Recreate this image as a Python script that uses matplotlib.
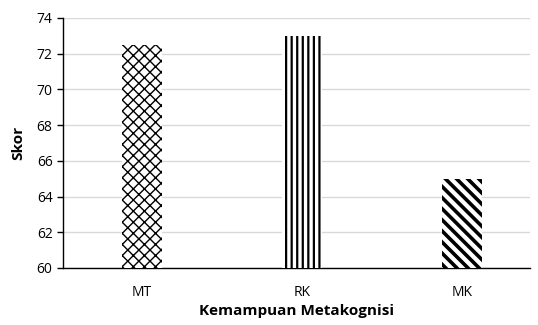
import matplotlib.pyplot as plt

categories = ["MT", "RK", "MK"]
scores = [72.5, 73.0, 65.0]
hatches = ["xxx", "|||", "\\\\\\"]
y_ticks = [60, 62, 64, 66, 68, 70, 72, 74]

plt.rcParams.update({
    "font.family": ["Open Sans", "DejaVu Sans"],
    "font.size": 10,
})

fig = plt.figure(figsize=(5.38, 3.25), dpi=100)
ax = fig.add_axes([63 / 538, 57 / 325, (530 - 63) / 538, 250 / 325])

x = list(range(len(categories)))
for xi, val, h, lw in zip(x, scores, hatches, [1.0, 1.6, 2.6]):
    plt.rcParams["hatch.linewidth"] = lw
    ax.bar(xi, val - 60, bottom=60, width=0.25, color="white",
           edgecolor="black", hatch=h, linewidth=0, zorder=3)

ax.set_ylim(60, 74)
ax.set_yticks(y_ticks)
ax.set_xlim(-0.494, 2.425)
ax.set_xticks(x)
ax.set_xticklabels(categories)
ax.tick_params(axis="x", length=0, pad=12, labelsize=10)
ax.tick_params(axis="y", length=4, direction="out", width=1, labelsize=10)
ax.yaxis.grid(True, color="#d9d9d9", linewidth=1, zorder=0)
ax.set_axisbelow(True)
for s in ["top", "right"]:
    ax.spines[s].set_visible(False)
ax.spines["left"].set_linewidth(1)
ax.spines["bottom"].set_linewidth(1)

ax.set_ylabel("Skor", fontweight="bold", fontsize=11, labelpad=8)
ax.set_xlabel("Kemampuan Metakognisi", fontweight="bold", fontsize=11, labelpad=3)

fig.savefig("out.png", dpi=100)
